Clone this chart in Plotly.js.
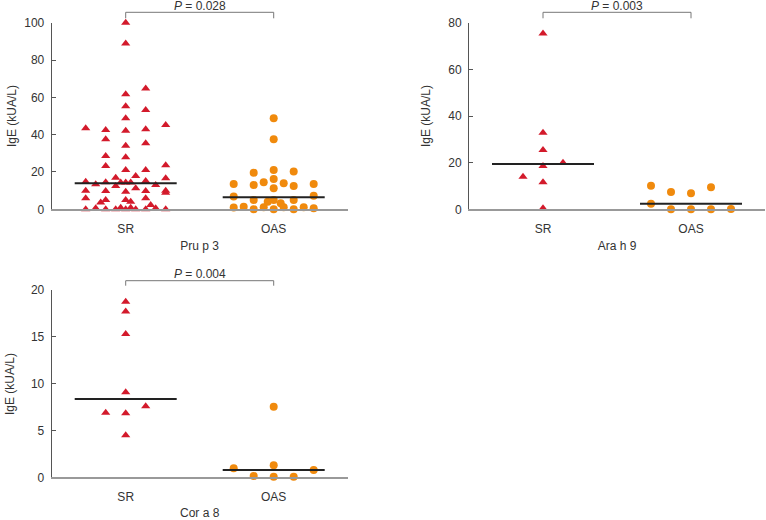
<!DOCTYPE html>
<html>
<head>
<meta charset="utf-8">
<script src="https://cdn.plot.ly/plotly-3.0.1.min.js"></script>
<style>html,body{margin:0;padding:0;background:#fff;}#chart{width:766px;height:520px;}</style>
</head>
<body>
<div id="chart"></div>
<script>
// ---------- data ----------
const groups = ["SR", "OAS"];
const allergens = ["Pru p 3", "Ara h 9", "Cor a 8"];
const pValues = ["0.028", "0.003", "0.004"];

// Pru p 3 (kUA/L)
const pruSR = [100, 88.9, 64.8, 61.6, 55.2, 53.2, 48.8, 43.4, 42.5, 42.1, 42.9, 45.2, 37.5, 34.1, 35.4,
  28.6, 27.9, 23.2, 23.6, 21.1, 21.1, 17.9, 16.9, 14.8, 13.4, 14.5, 12.5, 14.3, 14.3, 14.3, 15.2, 13.0,
  10.0, 16.6, 8.9, 10.0, 9.8, 9.4, 11.3, 9.8, 5.9, 5.0, 3.6, 5.0, 4.1, 5.9, 2.3,
  0, 0.5, 0, 0, 0.8, 0, 0.8, 0, 0, 0.5, 0];
const pruOAS = [48.8, 37.5, 13.6, 19.6, 13.0, 14.5, 21.1, 16.2, 11.3, 13.9, 20.2, 12.5, 13.6,
  6.8, 7.3, 5.0, 4.1, 5.0, 3.2, 5.0, 0.9, 1.4, 0, 1.1, 0, 1.1, 0, 1.1, 0.5];
// Ara h 9
const araSR = [75.4, 32.8, 25.4, 20.0, 18.6, 14.0, 11.6, 0.4];
const araOAS = [10.1, 7.4, 6.9, 9.4, 2.4, 0, 0, 0, 0.1];
// Cor a 8
const corSR = [18.75, 17.7, 15.3, 9.07, 6.9, 6.83, 7.6, 4.5];
const corOAS = [7.54, 0.96, 0.14, 1.3, 0.05, 0.05, 0.78];

// medians [SR, OAS]
const pruMedian = [13.9, 6.4];
const araMedian = [19.4, 2.4];
const corMedian = [8.36, 0.78];

// horizontal spread of dots (pixels from group centre)
const pruSRJitter = [0, 0, 20, 0, 0, 20, 0, -40, -20, 0, 20, 40, -20, 0, 20,
  -20, 0, -20, 40, 0, 20, 10, -10, -40, -30, -20, -10, -5, 0, 5, 20, 30,
  40, 40, 40, -40, -20, 0, 10, 20, -40, -20, -25, 0, 5, 20, 25,
  -40, -30, -20, -10, -5, 0, 5, 10, 20, 30, 40];
const pruOASJitter = [0, 0, -40, -20, -20, -10, 0, 0, 0, 10, 20, 20, 40,
  -40, 40, -20, -6, 0, 7, 20, -40, -30, -20, -10, 0, 10, 20, 30, 40];
const araSRJitter = [0, 0, 0, 20, 0, -20, 0, 0];
const araOASJitter = [-40, -20, 0, 20, -40, -20, 0, 20, 40];
const corSRJitter = [0, 0, 0, 0, -20, 0, 20, 0];
const corOASJitter = [0, -40, -20, 0, 0, 20, 40];

// ---------- drawing ----------
const W = 766, H = 520;
const PX_PER_UNIT = 148;
const RED = '#d31a2b', ORANGE = '#f08a0d';
const FONT = 'Liberation Sans, Arial, sans-serif';

const panels = [
  {sr: pruSR, oas: pruOAS, srJ: pruSRJitter, oasJ: pruOASJitter, med: pruMedian, ax: ''},
  {sr: araSR, oas: araOAS, srJ: araSRJitter, oasJ: araOASJitter, med: araMedian, ax: '2'},
  {sr: corSR, oas: corOAS, srJ: corSRJitter, oasJ: corOASJitter, med: corMedian, ax: '3'}
];

const traces = [];
panels.forEach(p => {
  const xa = 'x' + p.ax, ya = 'y' + p.ax;
  traces.push({
    type: 'scatter', mode: 'markers', xaxis: xa, yaxis: ya, cliponaxis: false,
    x: p.sr.map((v, i) => 0 + p.srJ[i] / PX_PER_UNIT), y: p.sr,
    marker: {symbol: 'triangle-up', size: 8, color: RED}, hoverinfo: 'y'
  });
  traces.push({
    type: 'scatter', mode: 'markers', xaxis: xa, yaxis: ya, cliponaxis: false,
    x: p.oas.map((v, i) => 1 + p.oasJ[i] / PX_PER_UNIT), y: p.oas,
    marker: {symbol: 'circle', size: 8, color: ORANGE}, hoverinfo: 'y'
  });
  p.med.forEach((m, gi) => {
    traces.push({
      type: 'scatter', mode: 'lines', xaxis: xa, yaxis: ya, cliponaxis: false,
      x: [gi - 51 / PX_PER_UNIT, gi + 51 / PX_PER_UNIT], y: [m, m],
      line: {color: '#222', width: 2}, hoverinfo: 'skip'
    });
  });
});

function px(xp) { return xp / W; }
function py(yp) { return 1 - yp / H; }

const tickFont = {family: FONT, size: 12, color: '#333'};
function xAxis(dom, title) {
  return {
    domain: dom, range: [-0.5, 1.5], fixedrange: true,
    showline: true, linecolor: '#999', linewidth: 1.5, showgrid: false, zeroline: false,
    ticks: '', tickvals: [0, 1], ticktext: groups, tickfont: tickFont, ticklabelstandoff: 8,
    title: {text: title, font: {family: FONT, size: 12, color: '#333'}, standoff: 6}
  };
}
function yAxis(dom, max, dtick) {
  return {
    domain: dom, range: [0, max], dtick: dtick, fixedrange: true,
    showline: true, linecolor: '#555', linewidth: 1, showgrid: false, zeroline: false,
    ticks: 'inside', ticklen: 4, tickcolor: '#555', tickfont: tickFont, ticklabelstandoff: 4
  };
}

const xd1 = [px(51.7), px(347.7)], xd2 = [px(469), px(765)];
const ydTop = [py(209.3), py(22.7)], ydBot = [py(477.3), py(290)];

const shapes = [];
const annotations = [];
const brackets = [
  {xr: 'x', top: 12.3, leg: 18.3, text: 6},
  {xr: 'x2', top: 12.3, leg: 18.3, text: 6},
  {xr: 'x3', top: 280.7, leg: 285.7, text: 274}
];
brackets.forEach((b, i) => {
  shapes.push({
    type: 'path', xref: b.xr, yref: 'paper',
    path: `M0,${py(b.leg)} L0,${py(b.top)} L1,${py(b.top)} L1,${py(b.leg)}`,
    line: {color: '#777', width: 1}
  });
  annotations.push({
    xref: b.xr, yref: 'paper', x: 0.5, y: py(b.text), showarrow: false,
    text: '<i>P</i> = ' + pValues[i], font: {family: FONT, size: 12, color: '#333'},
    xanchor: 'center', yanchor: 'middle'
  });
});
[[12, 116], [426, 116], [10, 384]].forEach(([xp, yp]) => {
  annotations.push({
    xref: 'paper', yref: 'paper', x: px(xp), y: py(yp), showarrow: false, textangle: -90,
    text: 'IgE (kUA/L)', font: {family: FONT, size: 12, color: '#333'},
    xanchor: 'center', yanchor: 'middle'
  });
});

const layout = {
  width: W, height: H, margin: {l: 0, r: 0, t: 0, b: 0},
  paper_bgcolor: '#fff', plot_bgcolor: '#fff', showlegend: false,
  xaxis: xAxis(xd1, allergens[0]), yaxis: yAxis(ydTop, 100, 20),
  xaxis2: xAxis(xd2, allergens[1]), yaxis2: yAxis(ydTop, 80, 20),
  xaxis3: xAxis(xd1, allergens[2]), yaxis3: yAxis(ydBot, 20, 5),
  shapes: shapes, annotations: annotations
};
layout.xaxis.anchor = 'y'; layout.yaxis.anchor = 'x';
layout.xaxis2.anchor = 'y2'; layout.yaxis2.anchor = 'x2';
layout.xaxis3.anchor = 'y3'; layout.yaxis3.anchor = 'x3';

Plotly.newPlot('chart', traces, layout, {staticPlot: true});
</script>
</body>
</html>
